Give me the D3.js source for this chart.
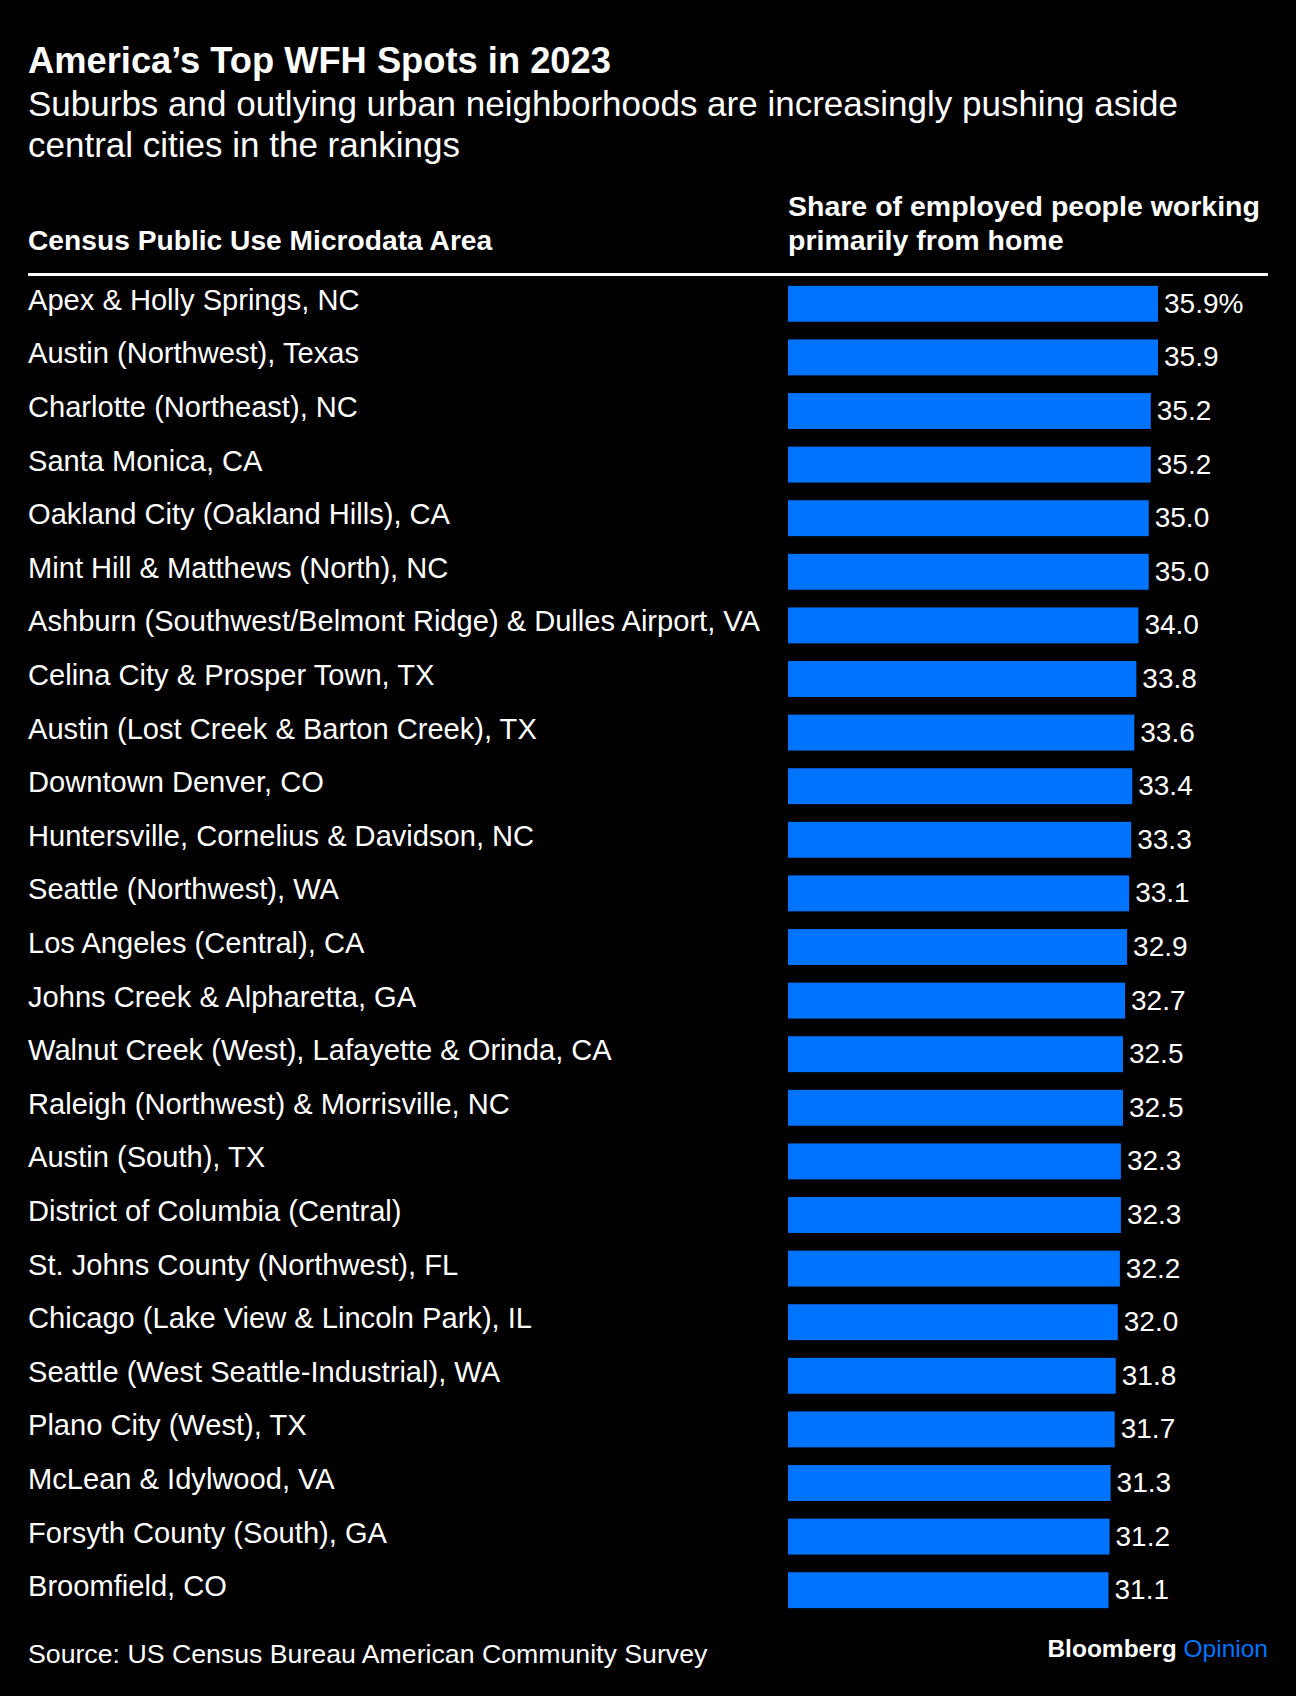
<!DOCTYPE html>
<html>
<head>
<meta charset="utf-8">
<script src="https://cdn.jsdelivr.net/npm/d3@7"></script>
<style>
  body { margin: 0; background: #000; }
  svg text { font-family: "Liberation Sans", Arial, sans-serif; fill: #fff; }
</style>
</head>
<body>
<div id="chart"></div>
<script>
const areas = [
  "Apex & Holly Springs, NC",
  "Austin (Northwest), Texas",
  "Charlotte (Northeast), NC",
  "Santa Monica, CA",
  "Oakland City (Oakland Hills), CA",
  "Mint Hill & Matthews (North), NC",
  "Ashburn (Southwest/Belmont Ridge) & Dulles Airport, VA",
  "Celina City & Prosper Town, TX",
  "Austin (Lost Creek & Barton Creek), TX",
  "Downtown Denver, CO",
  "Huntersville, Cornelius & Davidson, NC",
  "Seattle (Northwest), WA",
  "Los Angeles (Central), CA",
  "Johns Creek & Alpharetta, GA",
  "Walnut Creek (West), Lafayette & Orinda, CA",
  "Raleigh (Northwest) & Morrisville, NC",
  "Austin (South), TX",
  "District of Columbia (Central)",
  "St. Johns County (Northwest), FL",
  "Chicago (Lake View & Lincoln Park), IL",
  "Seattle (West Seattle-Industrial), WA",
  "Plano City (West), TX",
  "McLean & Idylwood, VA",
  "Forsyth County (South), GA",
  "Broomfield, CO"
];
const shares = [35.9, 35.9, 35.2, 35.2, 35.0, 35.0, 34.0, 33.8, 33.6, 33.4, 33.3, 33.1, 32.9,
                32.7, 32.5, 32.5, 32.3, 32.3, 32.2, 32.0, 31.8, 31.7, 31.3, 31.2, 31.1];

const title = "America\u2019s Top WFH Spots in 2023";
const subtitle = ["Suburbs and outlying urban neighborhoods are increasingly pushing aside",
                  "central cities in the rankings"];
const colHeadLeft = "Census Public Use Microdata Area";
const colHeadRight = ["Share of employed people working", "primarily from home"];
const source = "Source: US Census Bureau American Community Survey";

const W = 1296, H = 1696;
const left = 28, right = 1268, barX = 788;
const blue = "#0073ff";

const data = areas.map((a, i) => ({area: a, value: shares[i]}));

const svg = d3.select("#chart").append("svg")
  .attr("width", W).attr("height", H)
  .style("background", "#000");

// headline
svg.append("text").attr("x", left).attr("y", 73)
  .attr("font-size", 36.3).attr("font-weight", "bold").text(title);

svg.selectAll(".sub").data(subtitle).join("text")
  .attr("class", "sub")
  .attr("x", left).attr("y", (d, i) => 116 + i * 41)
  .attr("font-size", 35).text(d => d);

// column headers
svg.append("text").attr("x", left).attr("y", 250)
  .attr("font-size", 28.2).attr("font-weight", "bold").text(colHeadLeft);

svg.selectAll(".colhead").data(colHeadRight).join("text")
  .attr("class", "colhead")
  .attr("x", barX).attr("y", (d, i) => 216 + i * 34)
  .attr("font-size", 28.5).attr("font-weight", "bold").text(d => d);

svg.append("line")
  .attr("x1", left).attr("x2", right)
  .attr("y1", 274.5).attr("y2", 274.5)
  .attr("stroke", "#fff").attr("stroke-width", 3);

// scales
const x = d3.scaleLinear().domain([0, 35.9]).range([barX, 1158]);
const y = d3.scaleBand().domain(areas).range([277, 1617]).paddingInner(0.33).paddingOuter(0.165);

const rows = svg.append("g").selectAll("g").data(data).join("g");

rows.append("text")
  .attr("x", left)
  .attr("y", d => y(d.area) + y.bandwidth() / 2 + 6)
  .attr("font-size", 29.1)
  .text(d => d.area);

rows.append("rect")
  .attr("x", x(0))
  .attr("y", d => y(d.area))
  .attr("width", d => x(d.value) - x(0))
  .attr("height", y.bandwidth())
  .attr("fill", blue);

rows.append("text")
  .attr("x", d => x(d.value) + 6)
  .attr("y", d => y(d.area) + y.bandwidth() / 2 + 9)
  .attr("font-size", 28)
  .text((d, i) => i === 0 ? d.value.toFixed(1) + "%" : d.value.toFixed(1));

// footer
svg.append("text").attr("x", left).attr("y", 1663)
  .attr("font-size", 26.7).text(source);

const brand = svg.append("text").attr("x", right).attr("y", 1657)
  .attr("text-anchor", "end").attr("font-size", 24.5);
brand.append("tspan").attr("font-weight", "bold").text("Bloomberg ");
brand.append("tspan").style("fill", blue).text("Opinion");
</script>
</body>
</html>
